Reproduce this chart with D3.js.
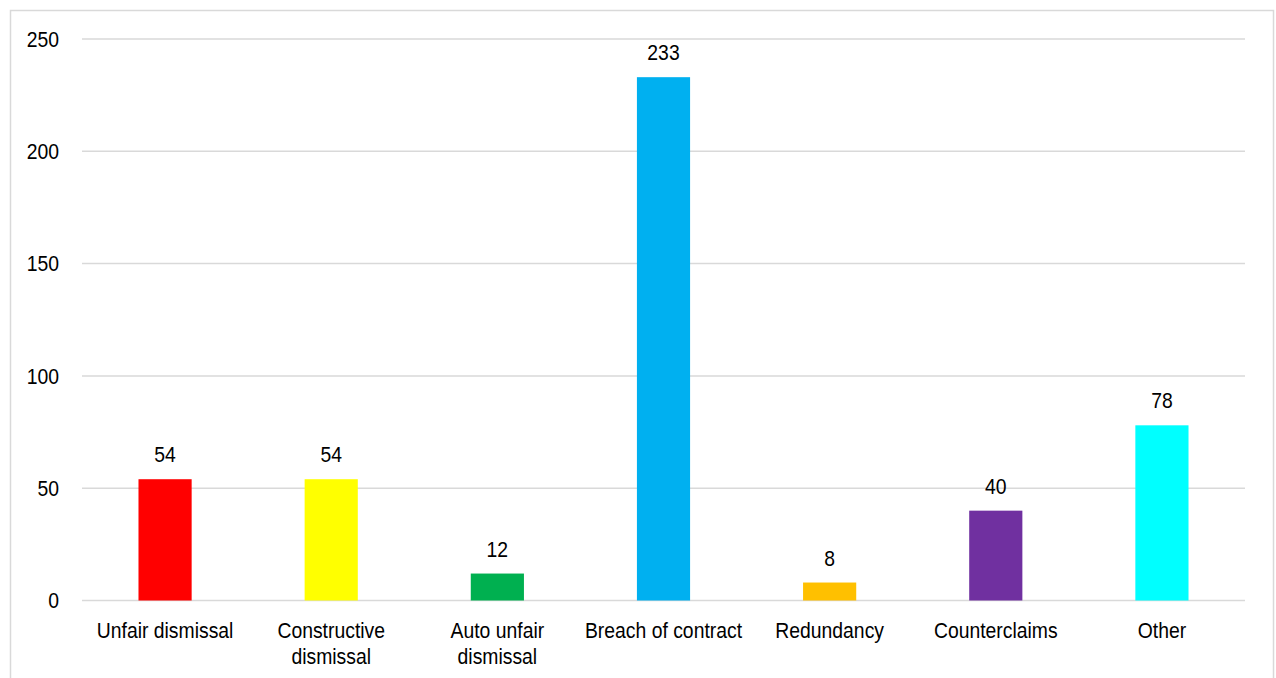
<!DOCTYPE html>
<html>
<head>
<meta charset="utf-8">
<script src="https://cdn.jsdelivr.net/npm/d3@7"></script>
<style>
  html, body { margin: 0; padding: 0; background: #fff; }
  svg { display: block; }
  text { font-family: "Liberation Sans", Arial, sans-serif; fill: #000; }
</style>
</head>
<body>
<svg id="chart" width="1276" height="678"></svg>
<script>
const categories = ["Unfair dismissal", "Constructive\ndismissal", "Auto unfair\ndismissal", "Breach of contract", "Redundancy", "Counterclaims", "Other"];
const values = [54, 54, 12, 233, 8, 40, 78];
const colors = ["#FF0000", "#FFFF00", "#00B050", "#00B0F0", "#FFC000", "#7030A0", "#00FFFF"];
const yTicks = [0, 50, 100, 150, 200, 250];

const W = 1276, H = 678;
const margin = { left: 82, right: 31, top: 39, bottom: 77 };
const svg = d3.select("#chart");
const FS = 22, SX = 0.88;

// outer border
svg.append("rect").attr("x", 10.5).attr("y", 10.5).attr("width", 1263).attr("height", 700)
  .attr("fill", "none").attr("stroke", "#d9d9d9").attr("stroke-width", 1.5);

const x = d3.scaleBand().domain(categories).range([margin.left, W - margin.right]).paddingInner(0.68).paddingOuter(0.34);
const y = d3.scaleLinear().domain([0, 250]).range([H - margin.bottom - 0.5, margin.top]);

// gridlines
svg.append("g").selectAll("line").data(yTicks).join("line")
  .attr("x1", margin.left).attr("x2", W - margin.right)
  .attr("y1", d => y(d)).attr("y2", d => y(d))
  .attr("stroke", "#d9d9d9").attr("stroke-width", 1.5);

// y tick labels
svg.append("g").selectAll("text").data(yTicks).join("text")
  .attr("transform", d => `translate(59,${y(d)}) scale(${SX},1)`)
  .attr("text-anchor", "end").attr("dy", "0.35em")
  .attr("font-size", FS).text(d => d);

// bars
svg.append("g").selectAll("rect").data(values).join("rect")
  .attr("x", (d, i) => x(categories[i]))
  .attr("width", x.bandwidth())
  .attr("y", d => y(d))
  .attr("height", d => y(0) - y(d))
  .attr("fill", (d, i) => colors[i]);

// value labels
svg.append("g").selectAll("text").data(values).join("text")
  .attr("transform", (d, i) => `translate(${x(categories[i]) + x.bandwidth() / 2},${y(d) - 17}) scale(${SX},1)`)
  .attr("text-anchor", "middle").attr("font-size", FS).text(d => d);

// category labels
const cl = svg.append("g").selectAll("g").data(categories).join("g")
  .attr("transform", d => `translate(${x(d) + x.bandwidth() / 2},638) scale(${SX},1)`);
cl.each(function(d) {
  const lines = d.split("\n");
  const t = d3.select(this).append("text").attr("text-anchor", "middle").attr("font-size", FS);
  lines.forEach((ln, k) => t.append("tspan").attr("x", 0).attr("dy", k === 0 ? 0 : 26).text(ln));
});
</script>
</body>
</html>
